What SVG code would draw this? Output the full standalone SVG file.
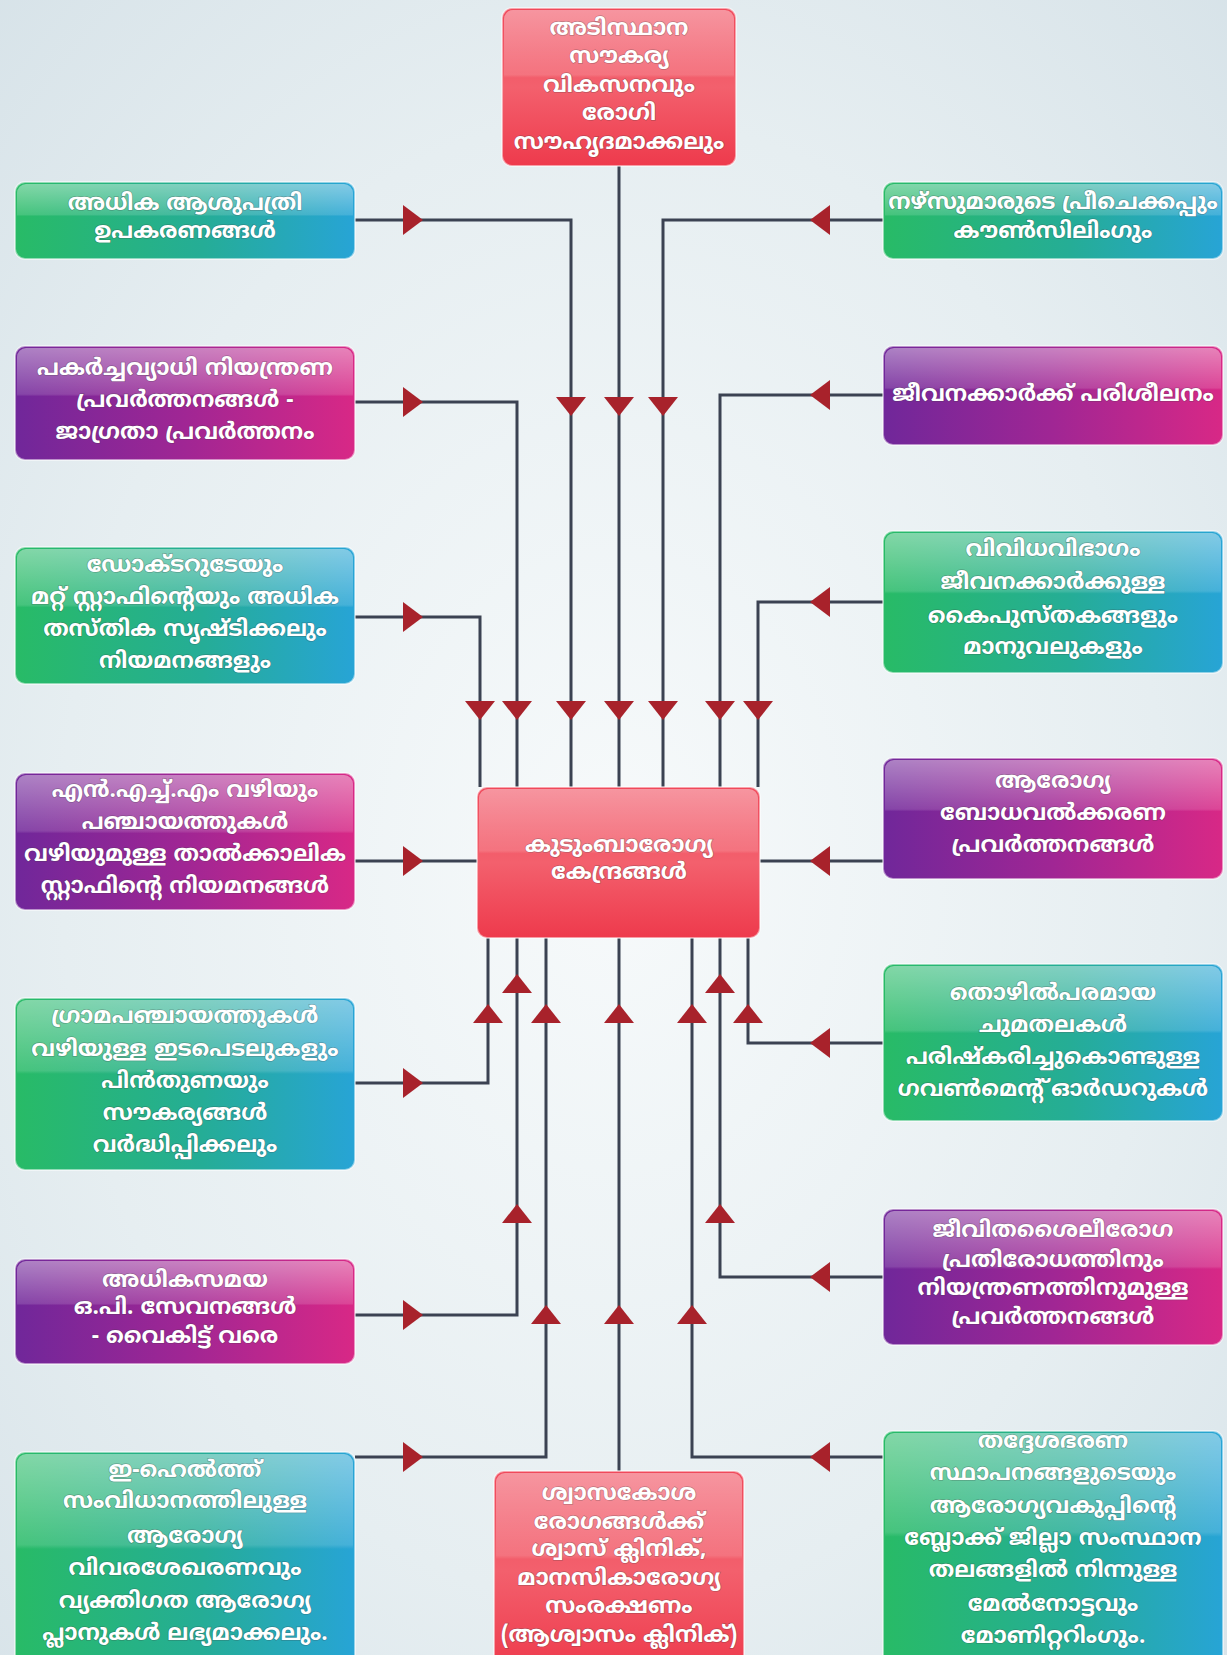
<svg xmlns="http://www.w3.org/2000/svg" width="1227" height="1655" viewBox="0 0 1227 1655">
<defs>
<radialGradient id="bg" cx="0.5" cy="0.52" r="0.75">
<stop offset="0" stop-color="#f7fafb"/>
<stop offset="0.6" stop-color="#e6eef1"/>
<stop offset="1" stop-color="#d6e2e8"/>
</radialGradient>
<linearGradient id="gGreen" x1="0" y1="0" x2="1" y2="0">
<stop offset="0" stop-color="#28bb66"/>
<stop offset="0.55" stop-color="#25ad96"/>
<stop offset="1" stop-color="#27a4d6"/>
</linearGradient>
<linearGradient id="gPurple" x1="0" y1="0" x2="1" y2="0">
<stop offset="0" stop-color="#70279a"/>
<stop offset="0.5" stop-color="#a02694"/>
<stop offset="1" stop-color="#d82886"/>
</linearGradient>
<linearGradient id="gRed" x1="0" y1="0" x2="0" y2="1">
<stop offset="0" stop-color="#f0485a"/>
<stop offset="0.5" stop-color="#f3606d"/>
<stop offset="1" stop-color="#ee3a4c"/>
</linearGradient>
<linearGradient id="gloss" x1="0" y1="0" x2="0" y2="1">
<stop offset="0" stop-color="#ffffff" stop-opacity="0.42"/>
<stop offset="0.42" stop-color="#ffffff" stop-opacity="0.14"/>
<stop offset="0.44" stop-color="#ffffff" stop-opacity="0"/>
<stop offset="1" stop-color="#ffffff" stop-opacity="0"/>
</linearGradient>
<path id="aD" d="M-15,-9 L15,-9 L0,10 Z"/>
<path id="aU" d="M-15,9 L15,9 L0,-10 Z"/>
<path id="aR" d="M-9,-15 L-9,15 L11,0 Z"/>
<path id="aL" d="M9,-15 L9,15 L-11,0 Z"/>
</defs>
<style>
.box{stroke:#ffffff;stroke-opacity:0.5;stroke-width:2}
.green{fill:url(#gGreen)}
.purple{fill:url(#gPurple)}
.red{fill:url(#gRed)}
.gl{fill:url(#gloss);stroke:none}
.t{font-family:"Noto Sans Malayalam","Noto Sans","DejaVu Sans",sans-serif;font-size:22.5px;font-weight:bold;fill:#ffffff;text-anchor:middle;dominant-baseline:central;paint-order:stroke;stroke:#3a3a3a;stroke-opacity:0.3;stroke-width:1.5px}
.c{fill:none;stroke:#3b4252;stroke-width:3}
.ar{fill:#a8222b}
</style>
<rect x="0" y="0" width="1227" height="1655" fill="url(#bg)"/>

<g id="connectors">
<path class="c" d="M355,220 H571 V787"/>
<path class="c" d="M619,166 V787"/>
<path class="c" d="M883,220 H663 V787"/>
<path class="c" d="M355,402 H517 V787"/>
<path class="c" d="M883,395 H720 V787"/>
<path class="c" d="M355,617 H480 V787"/>
<path class="c" d="M883,602 H758 V787"/>
<path class="c" d="M355,861 H477"/>
<path class="c" d="M883,861 H760"/>
<path class="c" d="M355,1083 H488 V938"/>
<path class="c" d="M883,1043 H748 V938"/>
<path class="c" d="M355,1315 H517 V938"/>
<path class="c" d="M883,1277 H720 V938"/>
<path class="c" d="M355,1457 H546 V938"/>
<path class="c" d="M883,1457 H692 V938"/>
<path class="c" d="M619,1471 V938"/>
<g class="ar">
<use href="#aR" x="412" y="220"/>
<use href="#aL" x="821" y="220"/>
<use href="#aR" x="412" y="402"/>
<use href="#aL" x="821" y="395"/>
<use href="#aR" x="412" y="617"/>
<use href="#aL" x="821" y="602"/>
<use href="#aR" x="412" y="861"/>
<use href="#aL" x="821" y="861"/>
<use href="#aR" x="412" y="1083"/>
<use href="#aL" x="821" y="1043"/>
<use href="#aR" x="412" y="1315"/>
<use href="#aL" x="821" y="1277"/>
<use href="#aR" x="412" y="1457"/>
<use href="#aL" x="821" y="1457"/>
<use href="#aD" x="571" y="406"/>
<use href="#aD" x="619" y="406"/>
<use href="#aD" x="663" y="406"/>
<use href="#aD" x="480" y="710"/>
<use href="#aD" x="517" y="710"/>
<use href="#aD" x="571" y="710"/>
<use href="#aD" x="619" y="710"/>
<use href="#aD" x="663" y="710"/>
<use href="#aD" x="720" y="710"/>
<use href="#aD" x="758" y="710"/>
<use href="#aU" x="517" y="984"/>
<use href="#aU" x="720" y="984"/>
<use href="#aU" x="488" y="1014"/>
<use href="#aU" x="546" y="1014"/>
<use href="#aU" x="619" y="1014"/>
<use href="#aU" x="692" y="1014"/>
<use href="#aU" x="748" y="1014"/>
<use href="#aU" x="517" y="1214"/>
<use href="#aU" x="720" y="1214"/>
<use href="#aU" x="546" y="1315"/>
<use href="#aU" x="619" y="1315"/>
<use href="#aU" x="692" y="1315"/>
</g>
</g>

<g id="n-top">
<rect class="box red" x="502" y="8" width="234" height="158" rx="10"/>
<rect class="gl" x="504" y="10" width="230" height="154" rx="9"/>
<text class="t"><tspan x="619" y="30">അടിസ്ഥാന</tspan><tspan x="619" y="58">സൗകര്യ</tspan><tspan x="619" y="87">വികസനവും</tspan><tspan x="619" y="115">രോഗി</tspan><tspan x="619" y="144">സൗഹൃദമാക്കലും</tspan></text>
</g>

<g id="n-center">
<rect class="box red" x="477" y="787" width="283" height="151" rx="10"/>
<rect class="gl" x="479" y="789" width="279" height="147" rx="9"/>
<text class="t"><tspan x="619" y="847">കുടുംബാരോഗ്യ</tspan><tspan x="619" y="874">കേന്ദ്രങ്ങൾ</tspan></text>
</g>

<g id="n-bottom">
<rect class="box red" x="494" y="1471" width="250" height="200" rx="10"/>
<rect class="gl" x="496" y="1473" width="246" height="196" rx="9"/>
<text class="t"><tspan x="619" y="1495">ശ്വാസകോശ</tspan><tspan x="619" y="1524">രോഗങ്ങൾക്ക്</tspan><tspan x="619" y="1551">ശ്വാസ് ക്ലിനിക്,</tspan><tspan x="619" y="1580">മാനസികാരോഗ്യ</tspan><tspan x="619" y="1608">സംരക്ഷണം</tspan><tspan x="619" y="1637">(ആശ്വാസം ക്ലിനിക്)</tspan></text>
</g>

<g id="n-l1">
<rect class="box green" x="15" y="182" width="340" height="77" rx="10"/>
<rect class="gl" x="17" y="184" width="336" height="73" rx="9"/>
<text class="t"><tspan x="185" y="205">അധിക ആശുപത്രി</tspan><tspan x="185" y="233">ഉപകരണങ്ങൾ</tspan></text>
</g>

<g id="n-l2">
<rect class="box purple" x="15" y="346" width="340" height="114" rx="10"/>
<rect class="gl" x="17" y="348" width="336" height="110" rx="9"/>
<text class="t"><tspan x="185" y="370">പകർച്ചവ്യാധി നിയന്ത്രണ</tspan><tspan x="185" y="402">പ്രവർത്തനങ്ങൾ -</tspan><tspan x="185" y="434">ജാഗ്രതാ പ്രവർത്തനം</tspan></text>
</g>

<g id="n-l3">
<rect class="box green" x="15" y="547" width="340" height="137" rx="10"/>
<rect class="gl" x="17" y="549" width="336" height="133" rx="9"/>
<text class="t"><tspan x="185" y="567">ഡോക്ടറുടേയും</tspan><tspan x="185" y="599">മറ്റ് സ്റ്റാഫിന്റെയും അധിക</tspan><tspan x="185" y="631">തസ്തിക സൃഷ്ടിക്കലും</tspan><tspan x="185" y="663">നിയമനങ്ങളും</tspan></text>
</g>

<g id="n-l4">
<rect class="box purple" x="15" y="773" width="340" height="137" rx="10"/>
<rect class="gl" x="17" y="775" width="336" height="133" rx="9"/>
<text class="t"><tspan x="185" y="792">എൻ.എച്ച്.എം വഴിയും</tspan><tspan x="185" y="824">പഞ്ചായത്തുകൾ</tspan><tspan x="185" y="856">വഴിയുമുള്ള താൽക്കാലിക</tspan><tspan x="185" y="888">സ്റ്റാഫിന്റെ നിയമനങ്ങൾ</tspan></text>
</g>

<g id="n-l5">
<rect class="box green" x="15" y="998" width="340" height="172" rx="10"/>
<rect class="gl" x="17" y="1000" width="336" height="168" rx="9"/>
<text class="t"><tspan x="185" y="1018">ഗ്രാമപഞ്ചായത്തുകൾ</tspan><tspan x="185" y="1051">വഴിയുള്ള ഇടപെടലുകളും</tspan><tspan x="185" y="1083">പിൻതുണയും</tspan><tspan x="185" y="1115">സൗകര്യങ്ങൾ</tspan><tspan x="185" y="1147">വർദ്ധിപ്പിക്കലും</tspan></text>
</g>

<g id="n-l6">
<rect class="box purple" x="15" y="1259" width="340" height="105" rx="10"/>
<rect class="gl" x="17" y="1261" width="336" height="101" rx="9"/>
<text class="t"><tspan x="185" y="1282">അധികസമയ</tspan><tspan x="185" y="1309">ഒ.പി. സേവനങ്ങൾ</tspan><tspan x="185" y="1338">- വൈകിട്ട് വരെ</tspan></text>
</g>

<g id="n-l7">
<rect class="box green" x="15" y="1452" width="340" height="220" rx="10"/>
<rect class="gl" x="17" y="1454" width="336" height="216" rx="9"/>
<text class="t"><tspan x="185" y="1472">ഇ-ഹെൽത്ത്</tspan><tspan x="185" y="1503">സംവിധാനത്തിലുള്ള</tspan><tspan x="185" y="1538">ആരോഗ്യ</tspan><tspan x="185" y="1570">വിവരശേഖരണവും</tspan><tspan x="185" y="1603">വ്യക്തിഗത ആരോഗ്യ</tspan><tspan x="185" y="1635">പ്ലാനുകൾ ലഭ്യമാക്കലും.</tspan></text>
</g>

<g id="n-r1">
<rect class="box green" x="883" y="182" width="340" height="77" rx="10"/>
<rect class="gl" x="885" y="184" width="336" height="73" rx="9"/>
<text class="t"><tspan x="1053" y="204">നഴ്സുമാരുടെ പ്രീചെക്കപ്പും</tspan><tspan x="1053" y="233">കൗൺസിലിംഗും</tspan></text>
</g>

<g id="n-r2">
<rect class="box purple" x="883" y="346" width="340" height="99" rx="10"/>
<rect class="gl" x="885" y="348" width="336" height="95" rx="9"/>
<text class="t"><tspan x="1053" y="396">ജീവനക്കാർക്ക് പരിശീലനം</tspan></text>
</g>

<g id="n-r3">
<rect class="box green" x="883" y="531" width="340" height="142" rx="10"/>
<rect class="gl" x="885" y="533" width="336" height="138" rx="9"/>
<text class="t"><tspan x="1053" y="551">വിവിധവിഭാഗം</tspan><tspan x="1053" y="584">ജീവനക്കാർക്കുള്ള</tspan><tspan x="1053" y="618">കൈപുസ്തകങ്ങളും</tspan><tspan x="1053" y="649">മാനുവലുകളും</tspan></text>
</g>

<g id="n-r4">
<rect class="box purple" x="883" y="758" width="340" height="121" rx="10"/>
<rect class="gl" x="885" y="760" width="336" height="117" rx="9"/>
<text class="t"><tspan x="1053" y="783">ആരോഗ്യ</tspan><tspan x="1053" y="815">ബോധവൽക്കരണ</tspan><tspan x="1053" y="847">പ്രവർത്തനങ്ങൾ</tspan></text>
</g>

<g id="n-r5">
<rect class="box green" x="883" y="964" width="340" height="157" rx="10"/>
<rect class="gl" x="885" y="966" width="336" height="153" rx="9"/>
<text class="t"><tspan x="1053" y="995">തൊഴിൽപരമായ</tspan><tspan x="1053" y="1027">ചുമതലകൾ</tspan><tspan x="1053" y="1059">പരിഷ്കരിച്ചുകൊണ്ടുള്ള</tspan><tspan x="1053" y="1091">ഗവൺമെന്റ് ഓർഡറുകൾ</tspan></text>
</g>

<g id="n-r6">
<rect class="box purple" x="883" y="1209" width="340" height="136" rx="10"/>
<rect class="gl" x="885" y="1211" width="336" height="132" rx="9"/>
<text class="t"><tspan x="1053" y="1232">ജീവിതശൈലീരോഗ</tspan><tspan x="1053" y="1262">പ്രതിരോധത്തിനും</tspan><tspan x="1053" y="1290">നിയന്ത്രണത്തിനുമുള്ള</tspan><tspan x="1053" y="1319">പ്രവർത്തനങ്ങൾ</tspan></text>
</g>

<g id="n-r7">
<rect class="box green" x="883" y="1431" width="340" height="240" rx="10"/>
<rect class="gl" x="885" y="1433" width="336" height="236" rx="9"/>
<text class="t"><tspan x="1053" y="1443">തദ്ദേശഭരണ</tspan><tspan x="1053" y="1475">സ്ഥാപനങ്ങളുടെയും</tspan><tspan x="1053" y="1508">ആരോഗ്യവകുപ്പിന്റെ</tspan><tspan x="1053" y="1540">ബ്ലോക്ക് ജില്ലാ സംസ്ഥാന</tspan><tspan x="1053" y="1572">തലങ്ങളിൽ നിന്നുള്ള</tspan><tspan x="1053" y="1606">മേൽനോട്ടവും</tspan><tspan x="1053" y="1638">മോണിറ്ററിംഗും.</tspan></text>
</g>
</svg>
